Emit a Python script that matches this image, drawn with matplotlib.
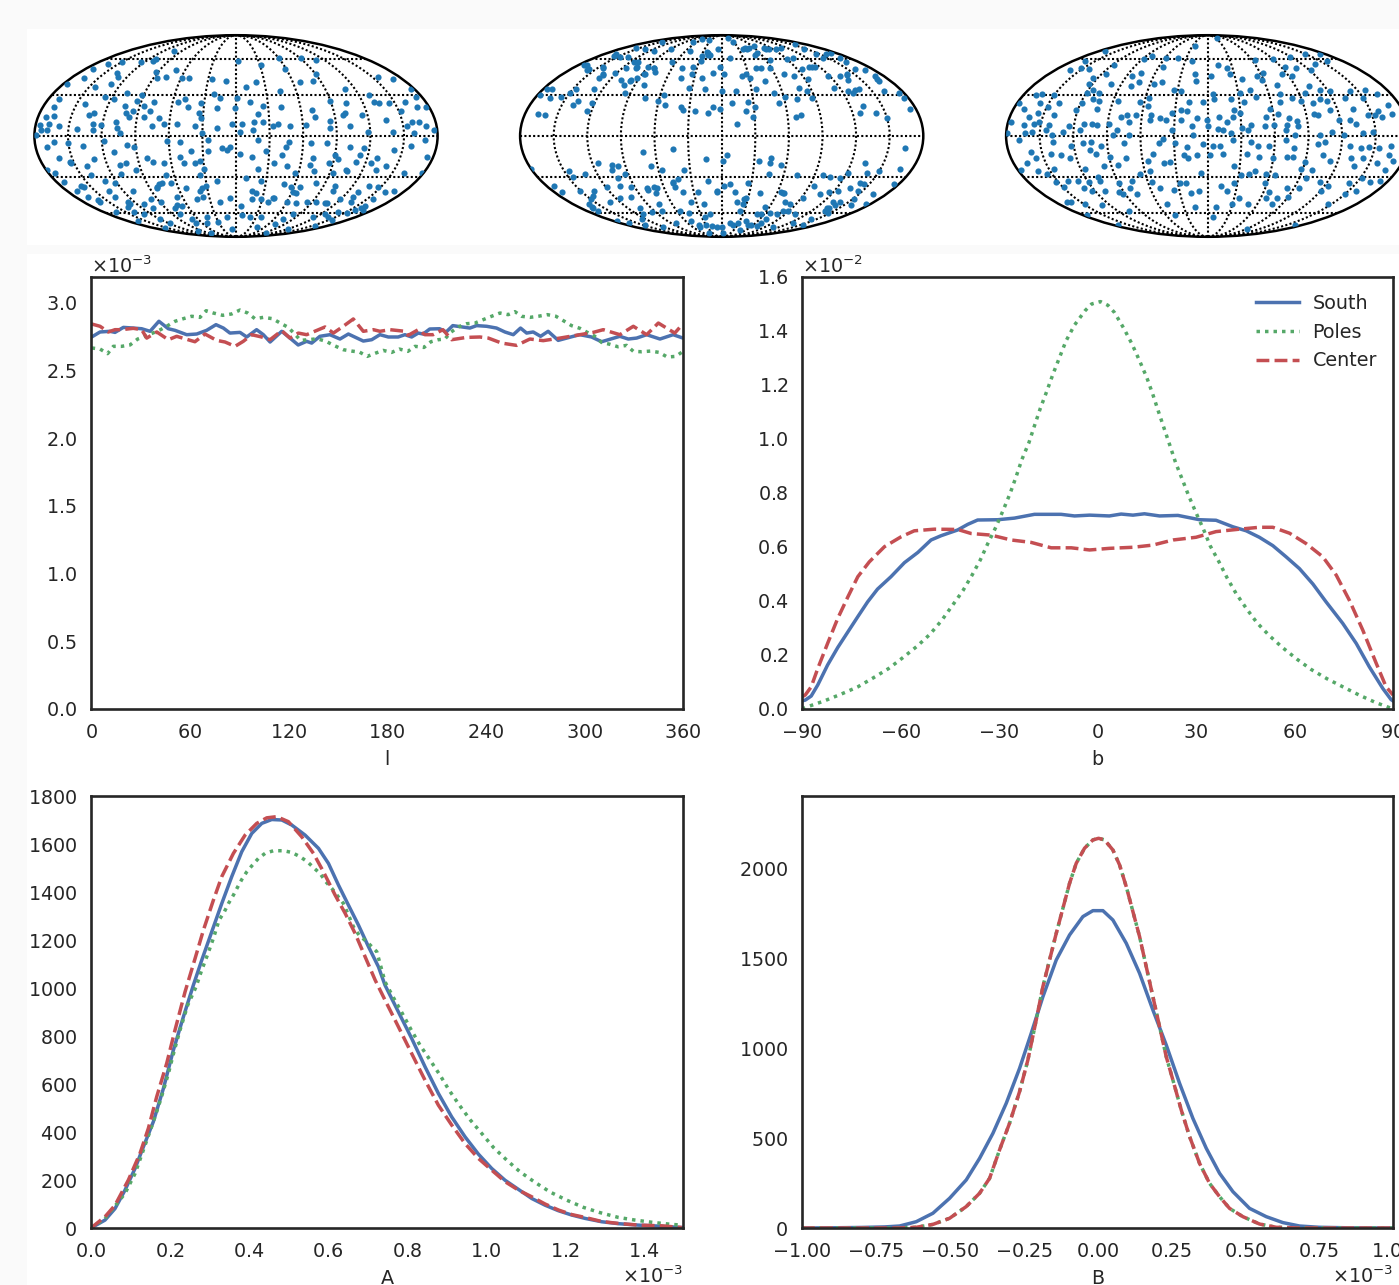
import numpy as np
import matplotlib
matplotlib.use("Agg")
import matplotlib.pyplot as plt
from matplotlib.patches import Rectangle

W, H = 1399, 1285

# ---------- sky maps: (longitude deg, latitude deg) ----------
south_sky = [
(-103,68),(-165,56),(-149,57),(-124,57),(-112,58.5),(-110,60),(3,58.5),(61,61),(92,61),(108,59),
(-171,51),(-136,47.5),(-130,44.5),(-167,44),(-176,39),(-92,48.5),(-87,44),(-71,50),(-77,44.5),(-59,44),(-52,44),(-26,43),(-11,41),
(31,55),(59,51),(91,47),(82,41),(67,40),(21,40),(10,36.5),(156,44.5),(169,42.5),(110,35),(176.5,35),
(-144,36.5),(-131,39),(-108,32),(-170,27),(-127,28.5),(-117,27),(-94,26),(-92,30.5),(-78,25),(-55,25),(-49,27),(-33,24.5),(-22,31),(-15,28),(1,28),(13,25),
(44,33),(42,21.5),(25,22),(90,26),(104,24),(130,30.5),(131,25),(135,24),(144,24),(160,25),(152,18),(175,29),(169,21.5),(177,21),
(-170,21),(-142,23.5),(-104,22),(-95,18.5),(-86,22),(-45,21),(-18,20.5),(-1,20.5),(70,19),(98,15),(100,17),(115,15.5),
(-173,14),(-166,14.5),(-176,8),(-168,9),(-159,7),(-174,4),(-169,4),(-142,5),(-129,9),(-128,4.5),(-134,15),(-130,17),(-121,8),(-108,10.5),(-107,5.5),(-104,2.5),
(-101,16.5),(-97,14),(-84,14),(-79,18),(-70,13),(-75,7),(-65,9),(-53,9),(-37,7),(-32,13),(-34,17),(-17,6),(-4,9),(5,9),(4,3),(15,4),(16,10),(24,10),(33,7),(38,9),(48,7),
(20,16),(63,8),(72,14),(84,6),(85,11),(102,7),(118,3),(136,12),(140,3),(153,7),(159,10),(165,10),(170,7),(177,4),(159,2),(-30,2.5),
(-179,1),(-163,-4),(-170,-8),(-150,-5),(-137,-7),(-118,-3.5),(-98,-6.5),(-92,-8),(-62,-3.5),(-50,-4),(-25,-3),(-13,-9),(-5,-8),(-25,-11),(-41,-11),(4,-13),(15,-15),(27,-11),(20,-3),(47,-4),
(67,-5),(81,-5),(102,-8),(115,-9),(142,-10),(157,-7),(169,-3),(174,-15),(129,-16),(113,-14),(90,-14),(42,-14),(70,-16),(45,-8),(-162,-16),(-153,-19),(-130,-17),(-110,-12),(-81,-16),(-77,-19),(-51,-15),(-33,-18),(-8,-10),
(-179,-25),(-174,-27),(-153,-20),(-139,-22),(-141,-29),(-111,-28),(-102,-20),(-108,-21),(-95,-25),(-67,-20),(-48,-20),(-38,-20),(-30,-24),(21,-24),(35,-20),(48,-22),(69,-21),(86,-20),(94,-17),(111,-19),(125,-20),(140,-22),
(161,-27),(178,-27),(133,-25),(104,-25),(93,-27),(74,-26),(57,-27),(10,-31),(-19,-33),(-35,-29),(-68,-29),(-82,-38),(-75,-35),(-66,-35),(-52,-39),(-31,-37),(25,-33),(49,-36),(81,-35),(106,-26),(137,-37),(147,-38),(168,-41),(102,-37),(66,-38),
(-173,-34),(-159,-37),(-130,-33),(-122,-35),
(-169,-41),(-166,-46),(-161,-50.5),(-135,-41),(-135,-46),(-109,-41),(-127,-50),(-111,-52),(-107,-56),(-97,-48),(-88,-50),(-66,-46),(-67,-54),(-45,-48),(-38,-41),(-19,-50),(-7,-47),(6,-54),(17,-41),(22,-43),(18,-48),(29,-48),(38,-50),(43,-47),
(60,-50),(72,-51),(84,-50),(57,-38),(65,-43),(94,-50),(106,-51),(103,-41),(119,-48),(135,-50),(131,-46),(131,-42),(157,-48),(160,-42),(153,-60),(160,-56),(166,-57),(138,-59),
(-163,-59),(-138,-59),(-129,-61),(-162,-68),(-119,-66),(-117,-70),(-154,-75.5),(-79,-61),(-70,-66),(-71,-70),(-44,-64),(-51,-70),(-98,-79),(-79,-82),(-13,-64),(-10,-77),(8,-62),(21,-64),(38,-64),(44,-75),(94,-82),(71,-71),(74,-66),(80,-61),(121,-77),(116,-64),(154,-73),(138,-64),(155,-67),(125,-61),(-30,-69),
(-36,-39),(-37,-46),(-72,-53),(-78,-56),(-82,-39),(-78,-36),(-128,-52),(-137,-55),(-160,-49),(-157,-38),(155,-57),(160,-54),(109,-51),(42,-47),(61,-42),
]

poles_sky = [
(-38,81),(-69,83),(-6,70),(23,84),(28,78),(38,70),(50,71),(-71,78),(-90,70),(-113,68),(-135,70),(-156,71),(-162,65),(-135,62),(-146,78),(-52,68),(-24,66.5),(-29,63),(-17,64),(55,66),(78,70),(108,71),(161,76),(145,70),(145,65),(172,66),(90,60),(101,61),(12,61),(65,59),(167,61),(162,57),
(-174,55),(-158,51),(-146,53),(-135,47),(-122,47.5),(-116,52),(-110,57),(-104,52),(-88,47),(-82,52),(-91,53),(-65,57),(-48,52),(-45,44),(-34,47),(-35,53),(-10,47.5),(-2,53),(-22,44),(3,47),(22,45),(28,47),(31,44),(42,52),(48,52),(58,52),(46,41),(71,47),(80,45),(96,51),(111,53),(94,43),(118,45),(131,45),(142,47),(159,51),(168,50),(168,43),(167,41),
(-177,35),(-171,35),(-178,30.5),(-166,28),(-147,35),(-150,32),(-156,29),(-129,35),(-101,38),(-98,41),(-96,32),(-80,38),(-74,28),(-137,26),(-140,23),(-122,24),(-56,30),(-61,26),(-53,23),(-33,36),(-17,35),(0,33),(14,33),(10,24.5),(25,25),(35,35),(52,32),(61,29),(54,24),(72,27),(79,36),(87,28),(85,33),(114,36),(126,33),(139,35),(130,32),(162,33),(175,32),(176,28),(132,22),
(-38,21),(-36,19),(-168,16),(-161,15.5),(-124,18),(-25,18),(-13,17),(-8,21),(-2,20),(22,18),(28,13.5),(31,21),(68,14),(72,15.5),(127,17),(141,16.5),(150,13),(175,20),(14,8.5),
(165,-9),(-44,-9.5),(-71,-12),(-14,-17),(5,-14),(1.5,-18),(34,-18),(45,-16),(45,-20),(55,-21),(-115,-20),(-102,-21),(-97,-22),(-104,-25),(-66,-22),(-57,-25),(-36,-25),(-180,-24),(133,-20),(139,-27),(168,-24),(150,-26),
(-146,-26),(-145,-30),(-132,-28),(-93,-28),(-102,-31),(-104,-37),(-49,-34),(-43,-32),(-48,-38),(-14,-33),(2,-37),(8,-36),(27,-35),(46,-28),(73,-29),(98,-29),(106,-30),(116,-31),(121,-27),(95,-37),(140,-35),(145,-36),(134,-39),(175,-36),
(-172,-37),(-171,-42),(-151,-41),(-136,-41),(-119,-38),(-94,-38),(-78,-39),(-70,-38),(-71,-43),(-42,-42),(-25,-42),(-5,-41),(14,-42),(41,-43),(68,-43),(108,-44),(115,-42),(124,-41),(145,-41),(166,-44),
(-164,-55),(-142,-45),(-131,-50),(-115,-47),(-102,-46),(-105,-56),(-111,-61),(-95,-59),(-76,-52),(-80,-58),(-36,-50),(-22,-52),(-56,-58),(-45,-60),(26,-48),(18,-50),(24,-58),(55,-55),(81,-58),(74,-50),(92,-47),(82,-52),(131,-50),(139,-50),(158,-53),(135,-56),(152,-48),(174,-52),
(-165,-58),(-173,-68),(-164,-70),(-125,-66),(-144,-72),(-123,-75),(-80,-70),(-51,-68),(-45,-75),(-25,-64),(-16,-61),(-10,-75),(-40,-82),(5,-82),(14,-70),(40,-68),(56,-72),(70,-70),(44,-78),(49,-61),(108,-75),(103,-61),(152,-72),(140,-66),(146,-60),(125,-70),(70,-66),(78,-61),
(-82,52),(-77,49),(-87,47),(-93,44),(-97,42),(-108,42),(-133,46),(-135,44),(-143,52),(-170,55),(-158,50),(-158,63),(-146,62),(-115,57),(-104,53),(-21,64),(-21,66),(-27,58),(43,71),(45,70),(66,74),(50,64),(77,71),(84,70),(96,70),(107,53),(115,53),(143,61),(160,65),(140,46),(136,42),(170,45),(134,34),
(-68,-39),(-78,-40),(-49,-35),(-5,-42),(28,-47),(26,-52),(64,-42),(67,-43),(138,-56),(138,-58),(139,-53),(-160,-52),(-165,-56),(-150,-48),(-43,-72),(-30,-72),(-18,-73),(0,-75),(22,-72),(29,-70),(50,-72),(68,-73),(56,-61),(66,-60),(88,-58),
]

center_sky = [
(-26,74),(35,84),(-171,68),(-165,58.5),(-142,51),(-162,50),(-153,52),(-119,55),(-115,47),(-88,60),(-82,63),(-58,61),(-55,53),(-42,61),(-21,58),(13,55),(23,52),(25,47),(64,59),(90,60),(118,62),(150,65),(172,65),(159,58),(138,56),(95,53),(107,52),(63,48),(55,45),(84,47),(93,45),(122,50),
(-14,47),(-12,41),(4,45),(37,43),(58,42),(-76,48),(-84,45),(-72,40),(-79,37),(-56,39),(-48,40),(-126,44),(-124,39),(-101,39),(72,38),(104,37),(96,32),(113,34),(122,33),(142,33),(158,34),(166,31),(42,34),(32,32),(71,31),(81,28),(89,26),(99,24),(108,27),(114,26),(132,28),(150,28),(169,23),
(69,25),(47,29),(34,25),(22,27),(5,31),(6,27),(-4,25),(-18,25),(-27,33),(-34,34),(-57,28),(-56,22),(-64,25),(-86,26),(-107,32),(-110,27),(-104,26),(-119,24),(-115,34),(-119,32),(-150,30),(-163,31),(-168,30),(-140,24),(-178,24),(-158,24),
(-170,20),(-156,17),(-149,21),(-163,14),(-177,10),(-165,8),(-156,9),(-152,10),(-140,15),(-143,8),(-163,2),(-179,2),(-157,3),(-145,4),(-139,1),(-129,3),(-124,7),(-122,19),(-114,4),(-111,9),(-104,9),(-99,8),(-103,20),(-89,9),(-81,4),(-85,1),(-79,14),(-74,15),(-71,10),(-65,15),(-70,1),
(-52,15),(-52,12),(-43,13),(-38,12),(-32,4),(-33,17),(-25,19),(-24,12),(-19,18),(-14,7),(-10,13),(-13,1),(0,7),(-1,12),(10,14),(9,5),(14,4),(17,10),(23,14),(24,19),(30,17),(21,2),(31,6),(39,8),(36,4),(51,7),(53,14),(60,8),(64,16),(58,20),(71,8),(74,13),(70,4),(81,11),(81,7),(78,1),
(101,15),(97,16),(113,19),(119,12),(100,1),(111,3),(129,12),(133,9),(122,1),(135,20),(139,2),(148,3),(146,15),(153,15),(157,18),(169,16),(159,14),
(-169,-3),(-138,-4),(-123,-7),(-112,-5),(-104,-4),(-96,-7),(-75,-5),(-44,-5),(-40,-2),(-29,-5),(-19,-8),(-4,-6),(5,-7),(11,-7),(23,-3),(39,-4),(45,-7),(55,-7),(70,-3),(78,-9),(99,-6),(105,-4),(128,-7),(138,-9),(145,-8),(154,-9),(164,-7),
(-160,-12),(-142,-13),(-157,-16),(-168,-20),(-133,-14),(-126,-16),(-106,-10),(-101,-13),(-89,-15),(-75,-16),(-97,-22),(-84,-21),(-55,-18),(-50,-13),(-41,-20),(-35,-19),(-22,-14),(-18,-16),(-10,-14),(2,-14),(14,-13),(36,-13),(47,-15),(60,-16),(25,-22),(72,-15),(78,-15),(105,-14),(113,-18),(131,-16),(142,-16),(157,-20),(165,-14),(171,-18),(90,-19),(99,-25),(88,-24),(137,-22),
(-177,-25),(-162,-26),(-155,-28),(-145,-24),(-152,-34),(-149,-38),(-139,-33),(-129,-33),(-116,-24),(-119,-34),(-107,-30),(-107,-33),(-129,-39),(-123,-41),(-109,-41),(-90,-35),(-81,-39),(-95,-42),(-93,-44),(-77,-44),(-75,-33),(-65,-28),(-55,-26),(-56,-34),(-50,-39),(-35,-40),(-28,-35),(-22,-35),(-18,-43),(-9,-41),(-6,-27),
(14,-37),(21,-41),(27,-35),(32,-29),(40,-28),(45,-26),(58,-35),(56,-28),(65,-29),(83,-39),(95,-39),(97,-31),(113,-34),(124,-37),(121,-41),(143,-35),(152,-31),(163,-34),(172,-33),(168,-25),
(66,-42),(66,-47),(78,-52),(79,-47),(90,-46),(49,-52),(36,-47),(29,-52),(-16,-55),(11,-55),(8,-64),(-47,-62),(-49,-52),(-105,-58),(-130,-53),(-148,-52),(-165,-50),(-161,-50),(-173,-62),(-169,-72),(90,-77),(165,-72),(145,-52),(150,-44),(158,-41),
]

# ---------- density curves ----------
l_south = [0.4,5.5,11.5,14.6,19.7,25.7,30.8,35.9,41.3,47,51.1,58.2,64.3,70.3,76,80.5,84.5,90.6,94.7,100.7,104.8,108.9,116,121,126,131.1,134.2,139.2,145.3,151.4,156.5,165.6,170.7,175.7,180.8,186.8,190.9,195,199,202,206,212,216,220,230.4,234.5,240.6,246.6,251.7,256.8,261.2,264.9,268.9,273.4,278,284.1,293.3,297.3,304.4,310.5,321.6,326.7,331.8,337.9,346,354,360]
dens_l_south = [2.747,2.784,2.789,2.781,2.818,2.813,2.808,2.789,2.863,2.808,2.796,2.764,2.769,2.796,2.838,2.813,2.776,2.781,2.747,2.801,2.764,2.71,2.789,2.739,2.688,2.715,2.702,2.752,2.764,2.732,2.769,2.717,2.727,2.764,2.747,2.747,2.764,2.747,2.776,2.769,2.806,2.808,2.784,2.831,2.813,2.831,2.826,2.813,2.784,2.764,2.813,2.776,2.784,2.752,2.789,2.722,2.752,2.764,2.747,2.712,2.752,2.732,2.739,2.764,2.732,2.764,2.739]
l_poles = [0.4,5.5,10.1,13.6,18.6,23.7,28.4,32.8,41.5,46,51.1,56.1,61.2,66.3,70,74.4,80.1,85.5,90.6,95.3,99.7,104.8,110.5,115,120,127.5,132.2,137.6,142.9,148,153.5,158.5,163.2,168,173.3,177.7,182.8,187.5,192.7,197,202.5,206.7,211.2,215.2,218.7,223.3,228.4,233.5,238.5,243.6,248.7,253.7,257.8,261.8,266.9,272,277.5,282.7,287.6,292.2,297.3,301.8,306.4,310.5,315.6,320.4,325.7,329.8,334.8,340.3,345.6,350.4,355.7,360]
dens_l_poles = [2.666,2.658,2.624,2.678,2.678,2.688,2.732,2.752,2.796,2.826,2.863,2.882,2.9,2.892,2.941,2.924,2.907,2.917,2.946,2.924,2.882,2.892,2.882,2.85,2.818,2.722,2.727,2.734,2.715,2.683,2.653,2.643,2.636,2.604,2.629,2.648,2.633,2.658,2.641,2.678,2.67,2.712,2.727,2.732,2.781,2.821,2.845,2.85,2.875,2.9,2.924,2.912,2.934,2.9,2.892,2.9,2.912,2.9,2.865,2.831,2.811,2.781,2.752,2.707,2.693,2.675,2.685,2.641,2.638,2.643,2.633,2.599,2.604,2.641]
l_center = [0.4,5.5,10.5,14.6,18.6,25.7,30.8,33.9,40,47,52.1,63.2,69.3,76.4,81.5,87.6,92.6,97.7,103.8,108.9,116,121,126.1,131.1,142.3,147.4,153.4,159.5,165.6,171.7,175.7,181.8,190.9,192.9,199,203,208,214,219.3,228.4,236.5,241.6,249.7,258.8,266.9,275,285.2,297.3,305.4,311.5,321.6,329.8,337.9,345,355,360]
dens_l_center = [2.843,2.826,2.784,2.801,2.801,2.811,2.801,2.739,2.784,2.727,2.752,2.712,2.769,2.722,2.71,2.678,2.715,2.764,2.747,2.727,2.794,2.739,2.776,2.764,2.821,2.776,2.826,2.88,2.789,2.801,2.789,2.801,2.789,2.759,2.801,2.764,2.764,2.801,2.727,2.744,2.747,2.739,2.702,2.685,2.732,2.72,2.739,2.764,2.781,2.801,2.764,2.826,2.764,2.85,2.776,2.845]

b_south = [-90,-89,-87.2,-85.2,-82.2,-79.1,-76,-73,-70,-67,-62.9,-58.8,-54.7,-50.7,-47.6,-42.6,-39.5,-36.5,-30.4,-25.3,-19.2,-11.1,-7,-2.4,3.6,7.2,10.8,14.3,18.9,24.5,31.1,36.1,41.2,45.3,49.3,53.4,57.4,61.5,65.6,69.6,74.7,78.8,82.8,86.9,89.4,90]
dens_b_south = [.03,.033,.048,.089,.163,.228,.286,.342,.397,.444,.49,.542,.58,.626,.642,.663,.684,.70,.701,.707,.721,.721,.715,.718,.715,.722,.718,.723,.715,.717,.701,.699,.675,.66,.636,.605,.564,.52,.463,.397,.317,.243,.156,.076,.035,.03]
b_poles = [-90,-88.4,-83.2,-78.1,-73,-68.2,-63.6,-59.3,-54.9,-51,-47.4,-44.1,-41,-38.2,-35.7,-33.4,-30.9,-28.7,-26.6,-24.8,-23,-20.9,-19.2,-17.4,-15.5,-13.6,-11.6,-9.6,-7,-3.8,-1.8,.9,3.2,5.2,8,10.5,12.8,15,16.8,18.5,20.3,22,23.8,25.8,27.8,30,32.3,34.3,37,39.5,42.2,45.3,48.6,52.4,56.4,60.7,65,69.9,74.9,79.8,84.9,87.4,90]
dens_b_poles = [0,.008,.03,.055,.082,.116,.15,.19,.233,.277,.329,.385,.438,.496,.552,.613,.675,.737,.799,.86,.925,.986,1.049,1.114,1.175,1.239,1.301,1.363,1.422,1.475,1.5,1.509,1.495,1.468,1.41,1.352,1.29,1.228,1.167,1.104,1.039,.978,.912,.851,.789,.727,.665,.605,.545,.485,.428,.373,.319,.271,.227,.185,.147,.112,.081,.051,.023,.012,0]
b_center = [-90,-89,-87.2,-85.2,-82.2,-79.1,-76,-73,-69.5,-64.9,-59.8,-55.8,-49.7,-42.6,-38.5,-32.4,-26.3,-20.2,-14.1,-8,-2.4,3.6,10.8,16.8,23,30,36.1,43.2,49.3,53.4,58.5,63.5,68.6,72.7,76.7,80.8,84.9,87.9,90]
dens_b_center = [.045,.052,.082,.15,.243,.336,.416,.49,.545,.601,.638,.66,.666,.665,.65,.644,.626,.617,.597,.597,.589,.595,.599,.607,.626,.636,.657,.666,.673,.673,.651,.613,.564,.496,.403,.292,.169,.082,.052]

a_south = [0,.0355,.0609,.0862,.1116,.1327,.158,.1834,.2087,.2341,.2594,.2806,.3059,.3313,.3566,.382,.4073,.4327,.458,.4834,.5087,.5425,.5763,.6017,.627,.6524,.6777,.7031,.7284,.7449,.7787,.8125,.8463,.8801,.9139,.9477,.9815,1.0153,1.0491,1.0829,1.1167,1.1505,1.1843,1.2181,1.2519,1.2942,1.3364,1.3871,1.4378,1.4969]
dens_a_south = [0,33,81,158,248,338,443,581,741,880,1012,1116,1234,1352,1464,1568,1644,1686,1702,1700,1679,1637,1582,1519,1429,1345,1262,1172,1088,1012,901,790,672,561,463,380,308,248,199,161,123,95,72,54,40,26,18,12,8,2]
a_poles = [0,.0355,.0862,.1116,.1327,.158,.1775,.1961,.2113,.2256,.2451,.2662,.2806,.2958,.3101,.3245,.338,.3482,.3608,.371,.382,.3946,.409,.4242,.4411,.4622,.4876,.5087,.5298,.5484,.5662,.5805,.5949,.6101,.6397,.665,.6794,.7031,.7242,.7449,.766,.7888,.8108,.8336,.859,.8843,.9071,.9333,.9612,.99,1.0195,1.0533,1.0871,1.1252,1.1632,1.2054,1.2477,1.2899,1.3364,1.3787,1.4251,1.4716,1.4969]
dens_a_poles = [0,40,144,227,325,443,540,644,741,825,929,1005,1075,1141,1207,1283,1318,1352,1387,1419,1452,1484,1512,1540,1561,1572,1572,1565,1547,1526,1498,1477,1443,1415,1352,1255,1220,1186,1151,1026,961,894,827,762,700,637,575,512,450,394,336,283,234,190,150,116,86,64,44,33,23,15,12]
a_center = [0,.0355,.0609,.0947,.1242,.1453,.1665,.1918,.2129,.2383,.2637,.2848,.3101,.3313,.3608,.3904,.42,.4453,.4707,.5002,.534,.5636,.589,.6186,.644,.6693,.6946,.72,.7449,.7787,.8125,.8463,.8801,.9139,.9477,.9815,1.0153,1.0491,1.0829,1.1167,1.1505,1.1843,1.2181,1.2519,1.2942,1.3364,1.3871,1.4463,1.4969]
dens_a_center = [0,47,95,200,311,415,547,686,825,984,1123,1241,1366,1464,1561,1637,1686,1709,1714,1693,1630,1561,1484,1387,1311,1227,1130,1033,950,839,727,616,512,429,352,290,241,193,158,130,100,75,56,44,27,19,12,9,2]

c_south = [-1,-.9,-.8,-.72,-.67,-.6134,-.557,-.5006,-.4442,-.399,-.3539,-.3088,-.2637,-.2242,-.1848,-.1396,-.0945,-.0494,-.0156,.0183,.0521,.0973,.1424,.1875,.2326,.2777,.3228,.368,.4131,.4582,.5146,.571,.6274,.6838,.75,.85,1]
dens_c_south = [0,1,3,6,11,35,82,165,267,387,526,693,887,1082,1285,1489,1628,1730,1763,1763,1711,1582,1415,1211,1017,804,609,443,304,202,109,63,30,11,4,1,0]
c_center = [-1,-.8,-.67,-.6134,-.557,-.5006,-.4442,-.399,-.3652,-.3314,-.2976,-.2637,-.2355,-.2073,-.1848,-.1622,-.1396,-.1171,-.0945,-.072,-.0438,-.0156,.0036,.0239,.0521,.0747,.0972,.1198,.1424,.1649,.1875,.21,.2326,.2552,.2834,.3116,.3454,.3793,.4131,.4469,.492,.5484,.6048,.6838,.8,1]
dens_c_center = [0,0,0,4,20,54,119,193,276,434,582,758,934,1156,1341,1489,1637,1776,1915,2026,2110,2156,2165,2156,2100,2017,1897,1758,1619,1452,1285,1119,952,822,656,508,359,248,174,109,63,22,4,0,0,0]
c_poles = c_center
dens_c_poles = dens_c_center

l_ticks = [0,60,120,180,240,300,360]
b_ticks = [-90,-60,-30,0,30,60,90]
series_names = ["South", "Poles", "Center"]

# ---------- style ----------
INK = "#262626"
FS = 13.8
plt.rcParams.update({
    "font.family": "DejaVu Sans", "font.size": FS,
    "text.color": INK, "axes.labelcolor": INK,
    "xtick.color": INK, "ytick.color": INK,
    "axes.edgecolor": INK, "axes.linewidth": 1.9,
    "xtick.major.size": 0, "ytick.major.size": 0,
    "xtick.major.pad": 10, "ytick.major.pad": 10,
    "axes.formatter.use_mathtext": True,
})
BLUE, GREEN, RED = "#4C72B0", "#55A868", "#C44E52"
LW = 2.5
STYLES = ("-", (0, (1, 1.45)), (0, (3.7, 1.5)))

fig = plt.figure(figsize=(W/100, H/100), dpi=100, facecolor="white")

def box(x0, y0, x1, y1):
    return [x0/W, 1-y1/H, (x1-x0)/W, (y1-y0)/H]

# sky maps
for sky, cx in ((south_sky, 236), (poles_sky, 721.7), (center_sky, 1207.7)):
    ax = fig.add_axes(box(cx-202.5, 35.2, cx+202.5, 236.8), projection="mollweide")
    ax.set_longitude_grid(30)
    ax.set_latitude_grid(30)
    ax.set_longitude_grid_ends(90)
    ax.grid(True, color="black", linestyle=(0, (1, 1.1)), linewidth=1.5)
    ax.set_xticklabels([]); ax.set_yticklabels([])
    pts = np.array(sky, dtype=float)
    ax.scatter(np.radians(pts[:, 0]), np.radians(pts[:, 1]), s=20, color="#1f77b4",
               linewidths=0, zorder=3)
    for sp in ax.spines.values():
        sp.set_linewidth(1.8); sp.set_edgecolor("black")

def panel(pos):
    ax = fig.add_axes(box(*pos))
    ax.ticklabel_format(style="sci", scilimits=(0, 0), useMathText=True)
    return ax

def curves(ax, xs, ys, xscale=1.0, yscale=1.0):
    for x, y, c, ls, name in zip(xs, ys, (BLUE, GREEN, RED), STYLES, series_names):
        ax.plot(np.array(x)*xscale, np.array(y)*yscale, color=c, ls=ls, lw=LW, label=name)

# l panel
ax = panel((91, 277, 683, 709))
curves(ax, (l_south, l_poles, l_center), (dens_l_south, dens_l_poles, dens_l_center), yscale=1e-3)
ax.set_xlim(0, 360); ax.set_ylim(0, 3.19e-3)
ax.set_xticks(l_ticks)
ax.ticklabel_format(axis="x", style="plain")
ax.set_yticks(np.arange(0, 3.01, .5)*1e-3)
ax.set_xlabel("l", labelpad=6)

# b panel
ax = panel((802, 277, 1393, 709))
curves(ax, (b_south, b_poles, b_center), (dens_b_south, dens_b_poles, dens_b_center), yscale=1e-2)
ax.set_xlim(-90, 90); ax.set_ylim(0, 1.6e-2)
ax.set_xticks(b_ticks)
ax.ticklabel_format(axis="x", style="plain")
ax.set_yticks(np.arange(0, 1.61, .2)*1e-2)
ax.set_xlabel("b", labelpad=6)
ax.legend(loc="upper right", frameon=False, fontsize=FS, handlelength=2.2,
          handletextpad=.73, labelspacing=.5, borderaxespad=0,
          bbox_to_anchor=(0.986, 0.978))

# A panel
ax = panel((91, 796, 683, 1228))
curves(ax, (a_south, a_poles, a_center), (dens_a_south, dens_a_poles, dens_a_center), xscale=1e-3)
ax.set_xlim(0, 1.5e-3); ax.set_ylim(0, 1800)
ax.set_xticks(np.arange(0, 1.41, .2)*1e-3)
ax.set_yticks(np.arange(0, 1801, 200))
ax.ticklabel_format(axis="y", style="plain")
ax.set_xlabel("A", labelpad=6)

# B panel
ax = panel((802, 796, 1393, 1228))
curves(ax, (c_south, c_poles, c_center), (dens_c_south, dens_c_poles, dens_c_center), xscale=1e-3)
ax.set_xlim(-1e-3, 1e-3); ax.set_ylim(0, 2400)
ax.set_xticks(np.arange(-1, 1.01, .25)*1e-3)
ax.set_yticks(np.arange(0, 2001, 500))
ax.ticklabel_format(axis="y", style="plain")
ax.set_xlabel("B", labelpad=6)

# pale page margin around the figure strips, drawn above the axes
PAGE = "#fafafa"
for x0, y0, x1, y1 in ((0, 0, W, 29), (0, 0, 27, H), (27, 245, W, 254)):
    fig.add_artist(Rectangle((x0/W, 1-y1/H), (x1-x0)/W, (y1-y0)/H, transform=fig.transFigure,
                             facecolor=PAGE, edgecolor="none", zorder=20))

fig.savefig("out.png", dpi=100, facecolor="white")
